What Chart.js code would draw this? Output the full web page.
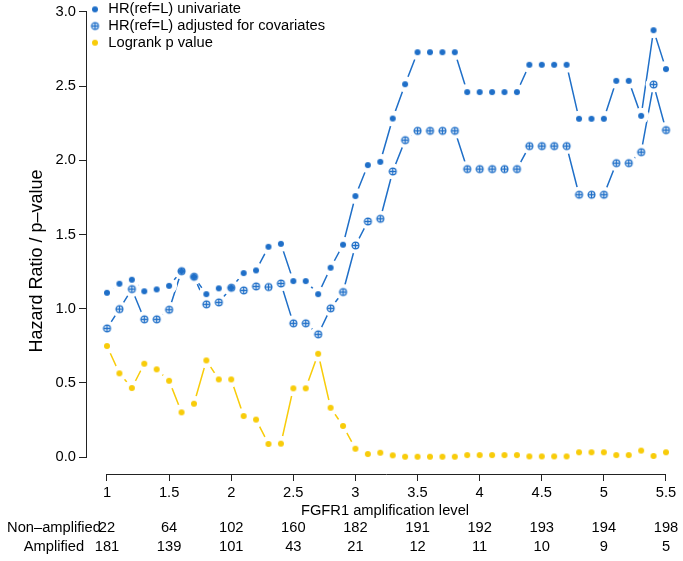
<!DOCTYPE html>
<html>
<head>
<meta charset="utf-8">
<script src="https://cdn.jsdelivr.net/npm/chart.js@4.4.1/dist/chart.umd.min.js"></script>
<style>
  html, body { margin: 0; padding: 0; background: #fff; overflow: hidden; }
  #wrap { width: 683px; height: 561px; }
</style>
</head>
<body>
<div id="wrap"><canvas id="chart"></canvas></div>
<script>
// amplification level cut-offs (x)
var levels = [1.0, 1.1, 1.2, 1.3, 1.4, 1.5, 1.6, 1.7, 1.8, 1.9,
              2.0, 2.1, 2.2, 2.3, 2.4, 2.5, 2.6, 2.7, 2.8, 2.9,
              3.0, 3.1, 3.2, 3.3, 3.4, 3.5, 3.6, 3.7, 3.8, 3.9,
              4.0, 4.1, 4.2, 4.3, 4.4, 4.5, 4.6, 4.7, 4.8, 4.9,
              5.0, 5.1, 5.2, 5.3, 5.4, 5.5];

var hrUnivariate = [1.107, 1.168, 1.195, 1.117, 1.130, 1.154, 1.253, 1.215, 1.098, 1.137,
                    1.141, 1.240, 1.258, 1.417, 1.437, 1.186, 1.186, 1.098, 1.276, 1.431,
                    1.759, 1.968, 1.990, 2.282, 2.513, 2.729, 2.729, 2.729, 2.729, 2.460,
                    2.460, 2.460, 2.460, 2.460, 2.644, 2.644, 2.644, 2.644, 2.280, 2.280,
                    2.280, 2.536, 2.536, 2.300, 2.877, 2.615];

var hrAdjusted = [0.867, 0.997, 1.132, 0.928, 0.928, 0.993, 1.253, 1.215, 1.029, 1.042,
                  1.141, 1.123, 1.150, 1.146, 1.170, 0.901, 0.901, 0.827, 1.002, 1.112,
                  1.426, 1.588, 1.606, 1.925, 2.136, 2.199, 2.199, 2.199, 2.199, 1.941,
                  1.941, 1.941, 1.941, 1.941, 2.096, 2.096, 2.096, 2.096, 1.768, 1.768,
                  1.768, 1.981, 1.981, 2.055, 2.511, 2.204];

var logrankP = [0.748, 0.564, 0.465, 0.629, 0.591, 0.514, 0.301, 0.359, 0.651, 0.523,
                0.523, 0.276, 0.252, 0.088, 0.090, 0.463, 0.463, 0.696, 0.332, 0.209,
                0.056, 0.020, 0.029, 0.011, 0.002, 0.002, 0.002, 0.002, 0.002, 0.013,
                0.013, 0.013, 0.013, 0.013, 0.004, 0.004, 0.004, 0.004, 0.032, 0.032,
                0.032, 0.013, 0.013, 0.043, 0.007, 0.032];

var xTicks = [1, 1.5, 2, 2.5, 3, 3.5, 4, 4.5, 5, 5.5];
var yTicks = [0, 0.5, 1, 1.5, 2, 2.5, 3];

var tableLabels = ['Non\u2013amplified', 'Amplified'];
var nonAmplified = [22, 64, 102, 160, 182, 191, 192, 193, 194, 198];
var amplified = [181, 139, 101, 43, 21, 12, 11, 10, 9, 5];

var blue = '#1f6fc8';
var yellow = '#f8cc0a';
var font = '"Liberation Sans", Arial, Helvetica, sans-serif';

var dot = function (color, r) {
    var c = document.createElement('canvas');
    var s = Math.ceil(r * 2 + 2);
    c.width = s; c.height = s;
    var g = c.getContext('2d');
    g.fillStyle = color;
    g.beginPath();
    g.arc(s / 2, s / 2, r, 0, Math.PI * 2);
    g.fill();
    return c;
};

var crossDot = function (color, r) {
    var c = document.createElement('canvas');
    var s = Math.ceil(r * 2 + 4);
    c.width = s; c.height = s;
    var g = c.getContext('2d');
    var m = s / 2;
    g.fillStyle = '#fff';
    g.beginPath(); g.arc(m, m, r, 0, Math.PI * 2); g.fill();
    g.strokeStyle = color;
    g.lineWidth = 1.3;
    g.beginPath(); g.arc(m, m, r, 0, Math.PI * 2); g.stroke();
    g.beginPath();
    g.moveTo(m - r, m); g.lineTo(m + r, m);
    g.moveTo(m, m - r); g.lineTo(m, m + r);
    g.stroke();
    return c;
};

var toXY = function (ys) {
    return levels.map(function (x, i) { return {x: x, y: ys[i]}; });
};

var series = [
    {label: 'HR(ref=L) univariate', data: hrUnivariate, color: blue, style: dot(blue, 3)},
    {label: 'HR(ref=L) adjusted for covariates', data: hrAdjusted, color: blue, style: crossDot(blue, 3.4)},
    {label: 'Logrank p value', data: logrankP, color: yellow, style: dot(yellow, 3)}
];

var datasets = [];
// points on top
series.forEach(function (s) {
    datasets.push({
        label: s.label, data: toXY(s.data), order: 0,
        showLine: false, pointStyle: s.style, pointRadius: 4,
        borderColor: s.color, backgroundColor: s.color
    });
});
// white gaps round each point (R type = "b")
series.forEach(function (s) {
    datasets.push({
        label: '', data: toXY(s.data), order: 1,
        showLine: false, pointStyle: 'circle', pointRadius: 8,
        pointBorderWidth: 0, pointBackgroundColor: '#fff', borderColor: '#fff'
    });
});
// connecting lines underneath
series.forEach(function (s) {
    datasets.push({
        label: '', data: toXY(s.data), order: 2,
        showLine: true, pointRadius: 0, borderWidth: 1.5, tension: 0,
        borderColor: s.color, backgroundColor: s.color
    });
});

var axisLines = {
    id: 'axisLines',
    afterDraw: function (chart) {
        var ctx = chart.ctx, xs = chart.scales.x, ys = chart.scales.y, a = chart.chartArea;
        ctx.save();
        ctx.strokeStyle = '#222';
        ctx.lineWidth = 1;
        ctx.beginPath();
        var lx = Math.round(a.left) - 0.5;
        ctx.moveTo(lx, ys.getPixelForValue(yTicks[0]));
        ctx.lineTo(lx, ys.getPixelForValue(yTicks[yTicks.length - 1]));
        var by = Math.round(a.bottom) + 0.5;
        ctx.moveTo(xs.getPixelForValue(xTicks[0]), by);
        ctx.lineTo(xs.getPixelForValue(xTicks[xTicks.length - 1]), by);
        ctx.stroke();

        ctx.fillStyle = '#000';
        ctx.textAlign = 'center';
        ctx.textBaseline = 'middle';

        // y axis title
        ctx.save();
        ctx.translate(37, 261);
        ctx.rotate(-Math.PI / 2);
        ctx.font = '18px ' + font;
        ctx.fillText('Hazard Ratio / p\u2013value', 0, 0);
        ctx.restore();

        // numbers at risk below the axis
        ctx.font = '14.7px ' + font;
        var rows = [nonAmplified, amplified];
        rows.forEach(function (row, r) {
            var y = 528 + r * 19;
            ctx.fillText(tableLabels[r], 54, y);
            row.forEach(function (v, i) {
                ctx.fillText(String(v), xs.getPixelForValue(xTicks[i]), y);
            });
        });
        ctx.restore();
    }
};

var ctx = document.getElementById('chart').getContext('2d');
new Chart(ctx, {
    type: 'line',
    data: {datasets: datasets},
    options: {
        responsive: true,
        maintainAspectRatio: false,
        animation: false,
        layout: {autoPadding: false, padding: {top: 9, right: 0, left: 0, bottom: 0}},
        plugins: {
            tooltip: {enabled: false},
            legend: {
                position: 'chartArea',
                align: 'start',
                labels: {
                    usePointStyle: true,
                    boxWidth: 12,
                    boxHeight: 12,
                    padding: 2,
                    color: '#000',
                    font: {family: font, size: 14.7},
                    filter: function (item) { return item.datasetIndex < 3; }
                }
            }
        },
        scales: {
            x: {
                type: 'linear',
                min: 0.839, max: 5.637,
                afterBuildTicks: function (s) { s.ticks = xTicks.map(function (v) { return {value: v}; }); },
                afterFit: function (s) { s.height = 87; s.paddingLeft = 0; s.paddingRight = 0; },
                grid: {drawOnChartArea: false, drawTicks: true, tickLength: 7, color: '#222', lineWidth: 1},
                border: {display: false},
                ticks: {
                    autoSkip: false, maxRotation: 0, padding: 3, color: '#000',
                    font: {family: font, size: 14.7},
                    callback: function (v) { return String(v); }
                },
                title: {
                    display: true, text: 'FGFR1 amplification level', color: '#000',
                    font: {family: font, size: 14.7},
                    padding: {top: 0, bottom: 41}
                }
            },
            y: {
                type: 'linear',
                min: -0.1146, max: 3.0202,
                afterBuildTicks: function (s) { s.ticks = yTicks.map(function (v) { return {value: v}; }); },
                afterFit: function (s) { s.width = 87; s.paddingTop = 0; s.paddingBottom = 0; },
                grid: {drawOnChartArea: false, drawTicks: true, tickLength: 8, color: '#222', lineWidth: 1},
                border: {display: false},
                ticks: {
                    padding: 3, color: '#000',
                    font: {family: font, size: 14.7},
                    callback: function (v) { return v.toFixed(1); }
                }
            }
        }
    },
    plugins: [axisLines]
});
</script>
</body>
</html>
